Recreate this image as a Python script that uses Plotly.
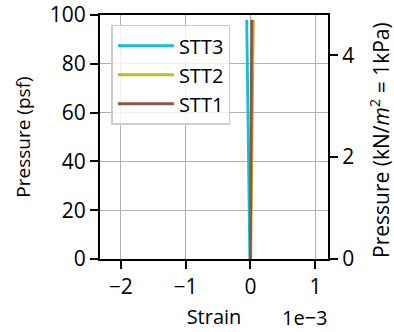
import plotly.graph_objects as go

# Pressure (psf) – loading then unloading
pressure = [0, 5, 10, 15, 20, 30, 40, 50, 60, 70, 80, 90, 98,
            90, 80, 70, 60, 50, 40, 30, 20, 15, 10, 5, 0]

# Strain values
strain_stt3 = [-0.000010, -0.000012, -0.000015, -0.000018, -0.000020, -0.000024, -0.000028,
               -0.000033, -0.000038, -0.000043, -0.000048, -0.000053, -0.000058,
               -0.000050, -0.000045, -0.000040, -0.000036, -0.000032, -0.000028,
               -0.000024, -0.000020, -0.000017, -0.000014, -0.000011, -0.000008]
strain_stt2 = [0.000002, 0.000004, 0.000006, 0.000008, 0.000010, 0.000014, 0.000018,
               0.000022, 0.000026, 0.000030, 0.000034, 0.000038, 0.000045,
               0.000040, 0.000036, 0.000031, 0.000027, 0.000023, 0.000019,
               0.000015, 0.000011, 0.000009, 0.000007, 0.000005, 0.000003]
strain_stt1 = [-0.000002, -0.000001, 0.000000, 0.000001, 0.000002, 0.000004, 0.000006,
               0.000008, 0.000010, 0.000012, 0.000014, 0.000016, 0.000020,
               0.000022, 0.000019, 0.000016, 0.000013, 0.000010, 0.000007,
               0.000005, 0.000003, 0.000002, 0.000001, 0.000000, -0.000001]

series_names = ["STT3", "STT2", "STT1"]
series_colors = ["#17becf", "#bcbd22", "#8c564b"]
series_strains = [strain_stt3, strain_stt2, strain_stt1]

x_ticks = [-2e-3, -1e-3, 0, 1e-3]
x_ticktext = ["\u22122", "\u22121", "0", "1"]
y_ticks = [0, 20, 40, 60, 80, 100]
kpa_ticks = [0, 2, 4]
PSF_TO_KPA = 0.0478803

FONT = "Open Sans"
fig = go.Figure()
for name, color, strain in zip(series_names, series_colors, series_strains):
    fig.add_trace(go.Scatter(x=strain, y=pressure, mode="lines", name=name,
                             line=dict(color=color, width=2.8)))

# invisible trace for secondary (kPa) axis
fig.add_trace(go.Scatter(x=[0, 0], y=[0, 100 * PSF_TO_KPA], yaxis="y2", mode="lines",
                         line=dict(color="rgba(0,0,0,0)"), showlegend=False, hoverinfo="skip"))

axis_common = dict(zeroline=False, showline=True, linecolor="black", linewidth=2,
                   ticks="outside", ticklen=8, tickwidth=1.8, tickcolor="black",
                   automargin=False, tickfont=dict(size=21))

fig.update_layout(
    width=394, height=332,
    margin=dict(l=100, r=66, t=15, b=73, autoexpand=False),
    paper_bgcolor="white", plot_bgcolor="white",
    font=dict(family=FONT, size=20, color="black"),
    showlegend=True,
    legend=dict(x=0.05, y=0.96, xanchor="left", yanchor="top",
                bgcolor="rgba(255,255,255,0.8)", bordercolor="#cccccc", borderwidth=1.5,
                font=dict(size=20), itemwidth=56, tracegroupgap=0),
    xaxis=dict(range=[-2.318e-3, 1.194e-3], tickvals=x_ticks, ticktext=x_ticktext,
               showgrid=True, gridcolor="#b0b0b0", gridwidth=1.2, mirror=True,
               title=dict(text="Strain", font=dict(size=20), standoff=11), **axis_common),
    yaxis=dict(range=[0, 100], tickvals=y_ticks, showgrid=True, gridcolor="#b0b0b0",
               gridwidth=1.2,
               title=dict(text="Pressure (psf)", font=dict(size=19), standoff=14), **axis_common),
    yaxis2=dict(range=[0, 100 * PSF_TO_KPA], tickvals=kpa_ticks, overlaying="y", side="right",
                showgrid=False, **axis_common),
)

# right axis title (placed as annotation so it can sit like the reference)
fig.add_annotation(text="Pressure (kN/<i>m</i><sup>2</sup> = 1kPa)", textangle=-90,
                   xref="paper", yref="paper", x=1.0, y=0.0, xanchor="center", yanchor="bottom",
                   xshift=51, yshift=-1, showarrow=False, font=dict(size=21))

fig.add_annotation(text="1e\u22123", xref="paper", yref="paper", x=1.0, y=0,
                   xanchor="right", yanchor="top", yshift=-43, xshift=2,
                   showarrow=False, font=dict(size=20))

fig.write_html("out.html")
